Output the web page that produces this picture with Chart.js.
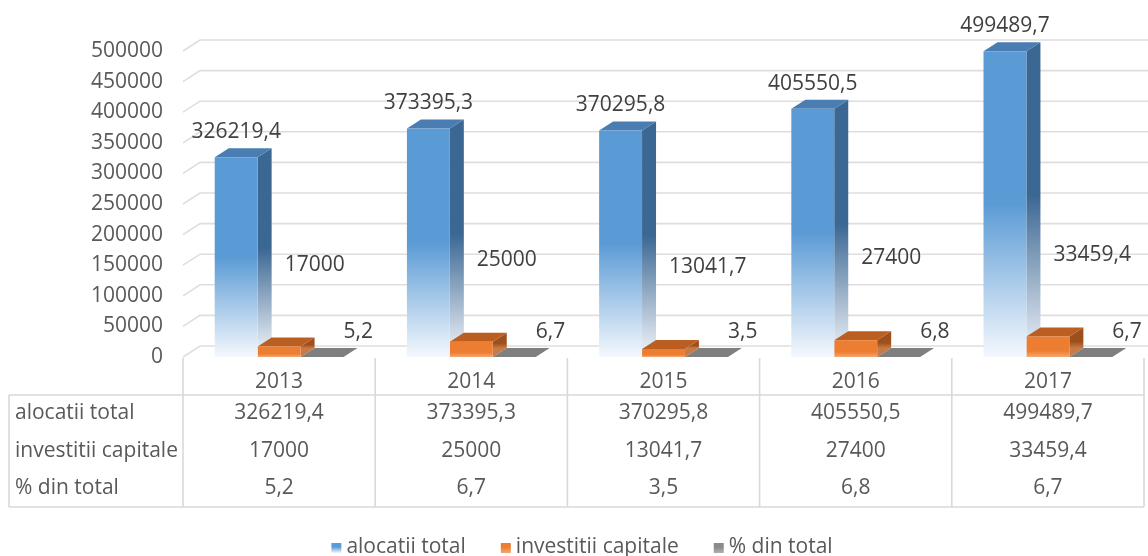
<!DOCTYPE html>
<html lang="ro">
<head>
<meta charset="UTF-8">
<title>Alocatii total si investitii capitale 2013-2017</title>
<script src="https://cdn.jsdelivr.net/npm/chart.js@4.4.0/dist/chart.umd.min.js"></script>
<style>
    html, body { margin: 0; padding: 0; background: #fff; }
    #wrap { width: 1148px; height: 556px; }
</style>
</head>
<body>
<div id="wrap"><canvas id="chart" width="1148" height="556"></canvas></div>
<script>
    // date
    const years = ['2013', '2014', '2015', '2016', '2017'];
    const alocatiiTotal = [326219.4, 373395.3, 370295.8, 405550.5, 499489.7];
    const investitiiCapitale = [17000, 25000, 13041.7, 27400, 33459.4];
    const procentDinTotal = [5.2, 6.7, 3.5, 6.8, 6.7];
    const seriesNames = ['alocatii total', 'investitii capitale', '% din total'];
    const yMin = 0, yMax = 500000, yStep = 50000;

    const FONT = "'Open Sans', sans-serif";
    const FS = 21;
    const DX = 14, DY = 9;        // adancimea coloanelor
    const WX = 17, WY = 11;       // peretele din spate

    const palettes = [
        { front: '#5b9bd5', fade: '#f4f8fd', side: '#3b6793', sideFade: '#e6ecf3', top: '#4a7db1', solid: 0.5 },
        { front: '#ed7d31', fade: '#f4a772', side: '#9f4f1b', sideFade: '#c77a45', top: '#bb5e22', solid: 0.7 },
        { front: '#8a8a8a', fade: '#b0b0b0', side: '#666666', sideFade: '#888888', top: '#7f7f7f', solid: 0.7 }
    ];

    function fmt(v) { return String(v).replace('.', ','); }

    function grad(ctx, top, base, c1, c2, solid) {
        if (!isFinite(top) || !isFinite(base) || Math.abs(base - top) < 1) return c1;
        const g = ctx.createLinearGradient(0, top, 0, base);
        g.addColorStop(0, c1);
        g.addColorStop(solid, c1);
        g.addColorStop(1, c2);
        return g;
    }

    function frontFill(c, k) {
        const p = palettes[k];
        const y = c.chart.scales.y;
        if (!y || c.type !== 'data' || !c.parsed) return p.front;
        const top = y.getPixelForValue(c.parsed.y);
        const base = y.getPixelForValue(0);
        return grad(c.chart.ctx, top, base, p.front, p.fade, p.solid);
    }

    const bars3d = {
        id: 'bars3d',
        beforeDatasetsDraw(chart) {
            const { ctx, chartArea: a, scales: { y } } = chart;
            ctx.save();
            // liniile de grila pe perete
            ctx.strokeStyle = '#dedede';
            ctx.lineWidth = 1.6;
            y.ticks.forEach(t => {
                const py = y.getPixelForValue(t.value);
                ctx.beginPath();
                ctx.moveTo(a.left, py);
                ctx.lineTo(a.left + WX, py - WY);
                ctx.lineTo(chart.width, py - WY);
                ctx.stroke();
            });
            // fetele laterale si de sus
            for (let i = 0; i < years.length; i++) {
                chart.data.datasets.forEach((ds, k) => {
                    const p = palettes[k];
                    const bar = chart.getDatasetMeta(k).data[i];
                    const { x, y: top, base, width } = bar.getProps(['x', 'y', 'base', 'width'], true);
                    const l = x - width / 2, r = x + width / 2;
                    ctx.fillStyle = grad(ctx, top - DY, base - DY, p.side, p.sideFade, p.solid);
                    ctx.beginPath();
                    ctx.moveTo(r, top);
                    ctx.lineTo(r + DX, top - DY);
                    ctx.lineTo(r + DX, base - DY);
                    ctx.lineTo(r, base);
                    ctx.closePath();
                    ctx.fill();
                    ctx.fillStyle = p.top;
                    ctx.beginPath();
                    ctx.moveTo(l, top);
                    ctx.lineTo(l + DX, top - DY);
                    ctx.lineTo(r + DX, top - DY);
                    ctx.lineTo(r, top);
                    ctx.closePath();
                    ctx.fill();
                });
            }
            ctx.restore();
        },
        afterDatasetsDraw(chart) {
            const { ctx } = chart;
            ctx.save();
            ctx.font = FS + 'px ' + FONT;
            ctx.fillStyle = '#404040';
            ctx.textBaseline = 'middle';
            chart.data.datasets.forEach((ds, k) => {
                chart.getDatasetMeta(k).data.forEach((bar, i) => {
                    const { x, y: top, width } = bar.getProps(['x', 'y', 'width'], true);
                    const txt = fmt(ds.data[i]);
                    if (k === 0) {
                        ctx.textAlign = 'center';
                        ctx.fillText(txt, x, top - 25);
                    } else if (k === 1) {
                        ctx.textAlign = 'left';
                        ctx.fillText(txt, x - width / 2 + 27, top - 82);
                    } else {
                        ctx.textAlign = 'left';
                        ctx.fillText(txt, x - width / 2 + 43, top - 25);
                    }
                });
            });
            ctx.restore();
        },
        afterDraw(chart) {
            const { ctx, chartArea: a } = chart;
            const n = years.length;
            const colW = (a.right - a.left) / n;
            const tTop = a.bottom + 38, tBot = a.bottom + 150;
            const rowY = [a.bottom + 56, a.bottom + 94, a.bottom + 131];
            ctx.save();
            // tabelul de date
            ctx.strokeStyle = '#d9d9d9';
            ctx.lineWidth = 1.6;
            ctx.beginPath();
            ctx.moveTo(9, tTop); ctx.lineTo(a.right, tTop);
            ctx.moveTo(9, tBot); ctx.lineTo(a.right, tBot);
            ctx.moveTo(9, tTop); ctx.lineTo(9, tBot);
            for (let k = 0; k <= n; k++) {
                const x = a.left + k * colW;
                ctx.moveTo(x, a.bottom + 1);
                ctx.lineTo(x, tBot);
            }
            ctx.stroke();
            ctx.font = FS + 'px ' + FONT;
            ctx.fillStyle = '#595959';
            ctx.textBaseline = 'middle';
            chart.data.datasets.forEach((ds, r) => {
                ctx.textAlign = 'left';
                ctx.fillText(ds.label, 15, rowY[r]);
                ctx.textAlign = 'center';
                ds.data.forEach((v, i) => {
                    ctx.fillText(fmt(v), a.left + (i + 0.5) * colW, rowY[r]);
                });
            });
            // legenda
            const box = 10, gap = 5, itemGap = 35;
            const widths = chart.data.datasets.map(ds => ctx.measureText(ds.label).width);
            const total = widths.reduce((s, w) => s + box + gap + w, 0) + itemGap * (widths.length - 1);
            let lx = chart.width / 2 + 8 - total / 2;
            const ly = 547;
            ctx.textAlign = 'left';
            chart.data.datasets.forEach((ds, k) => {
                const p = palettes[k];
                ctx.fillStyle = grad(ctx, ly - box / 2 + 1, ly + box / 2 + 1, p.front, p.fade, 0.4);
                ctx.fillRect(lx, ly - box / 2 + 1, box, box);
                ctx.fillStyle = '#595959';
                ctx.fillText(ds.label, lx + box + gap, ly);
                lx += box + gap + widths[k] + itemGap;
            });
            ctx.restore();
        }
    };

    new Chart(document.getElementById('chart'), {
        type: 'bar',
        data: {
            labels: years,
            datasets: [
                { label: seriesNames[0], data: alocatiiTotal, backgroundColor: c => frontFill(c, 0) },
                { label: seriesNames[1], data: investitiiCapitale, backgroundColor: c => frontFill(c, 1) },
                { label: seriesNames[2], data: procentDinTotal, backgroundColor: c => frontFill(c, 2) }
            ]
        },
        options: {
            responsive: false,
            animation: false,
            categoryPercentage: 0.67,
            barPercentage: 1.0,
            layout: { padding: { top: 51, right: 4, bottom: 0, left: 0 } },
            plugins: {
                legend: { display: false },
                tooltip: { enabled: false }
            },
            scales: {
                x: {
                    grid: { display: false, drawTicks: false },
                    border: { display: false },
                    ticks: { color: '#595959', font: { family: FONT, size: FS }, padding: 12 },
                    afterFit(s) { s.height = 199; }
                },
                y: {
                    min: yMin,
                    max: yMax,
                    grid: { display: false, drawTicks: false },
                    border: { display: false },
                    ticks: {
                        stepSize: yStep,
                        color: '#595959',
                        font: { family: FONT, size: FS },
                        padding: 20,
                        callback: v => String(v)
                    },
                    afterFit(s) { s.width = 183; }
                }
            }
        },
        plugins: [bars3d]
    });
</script>
</body>
</html>
